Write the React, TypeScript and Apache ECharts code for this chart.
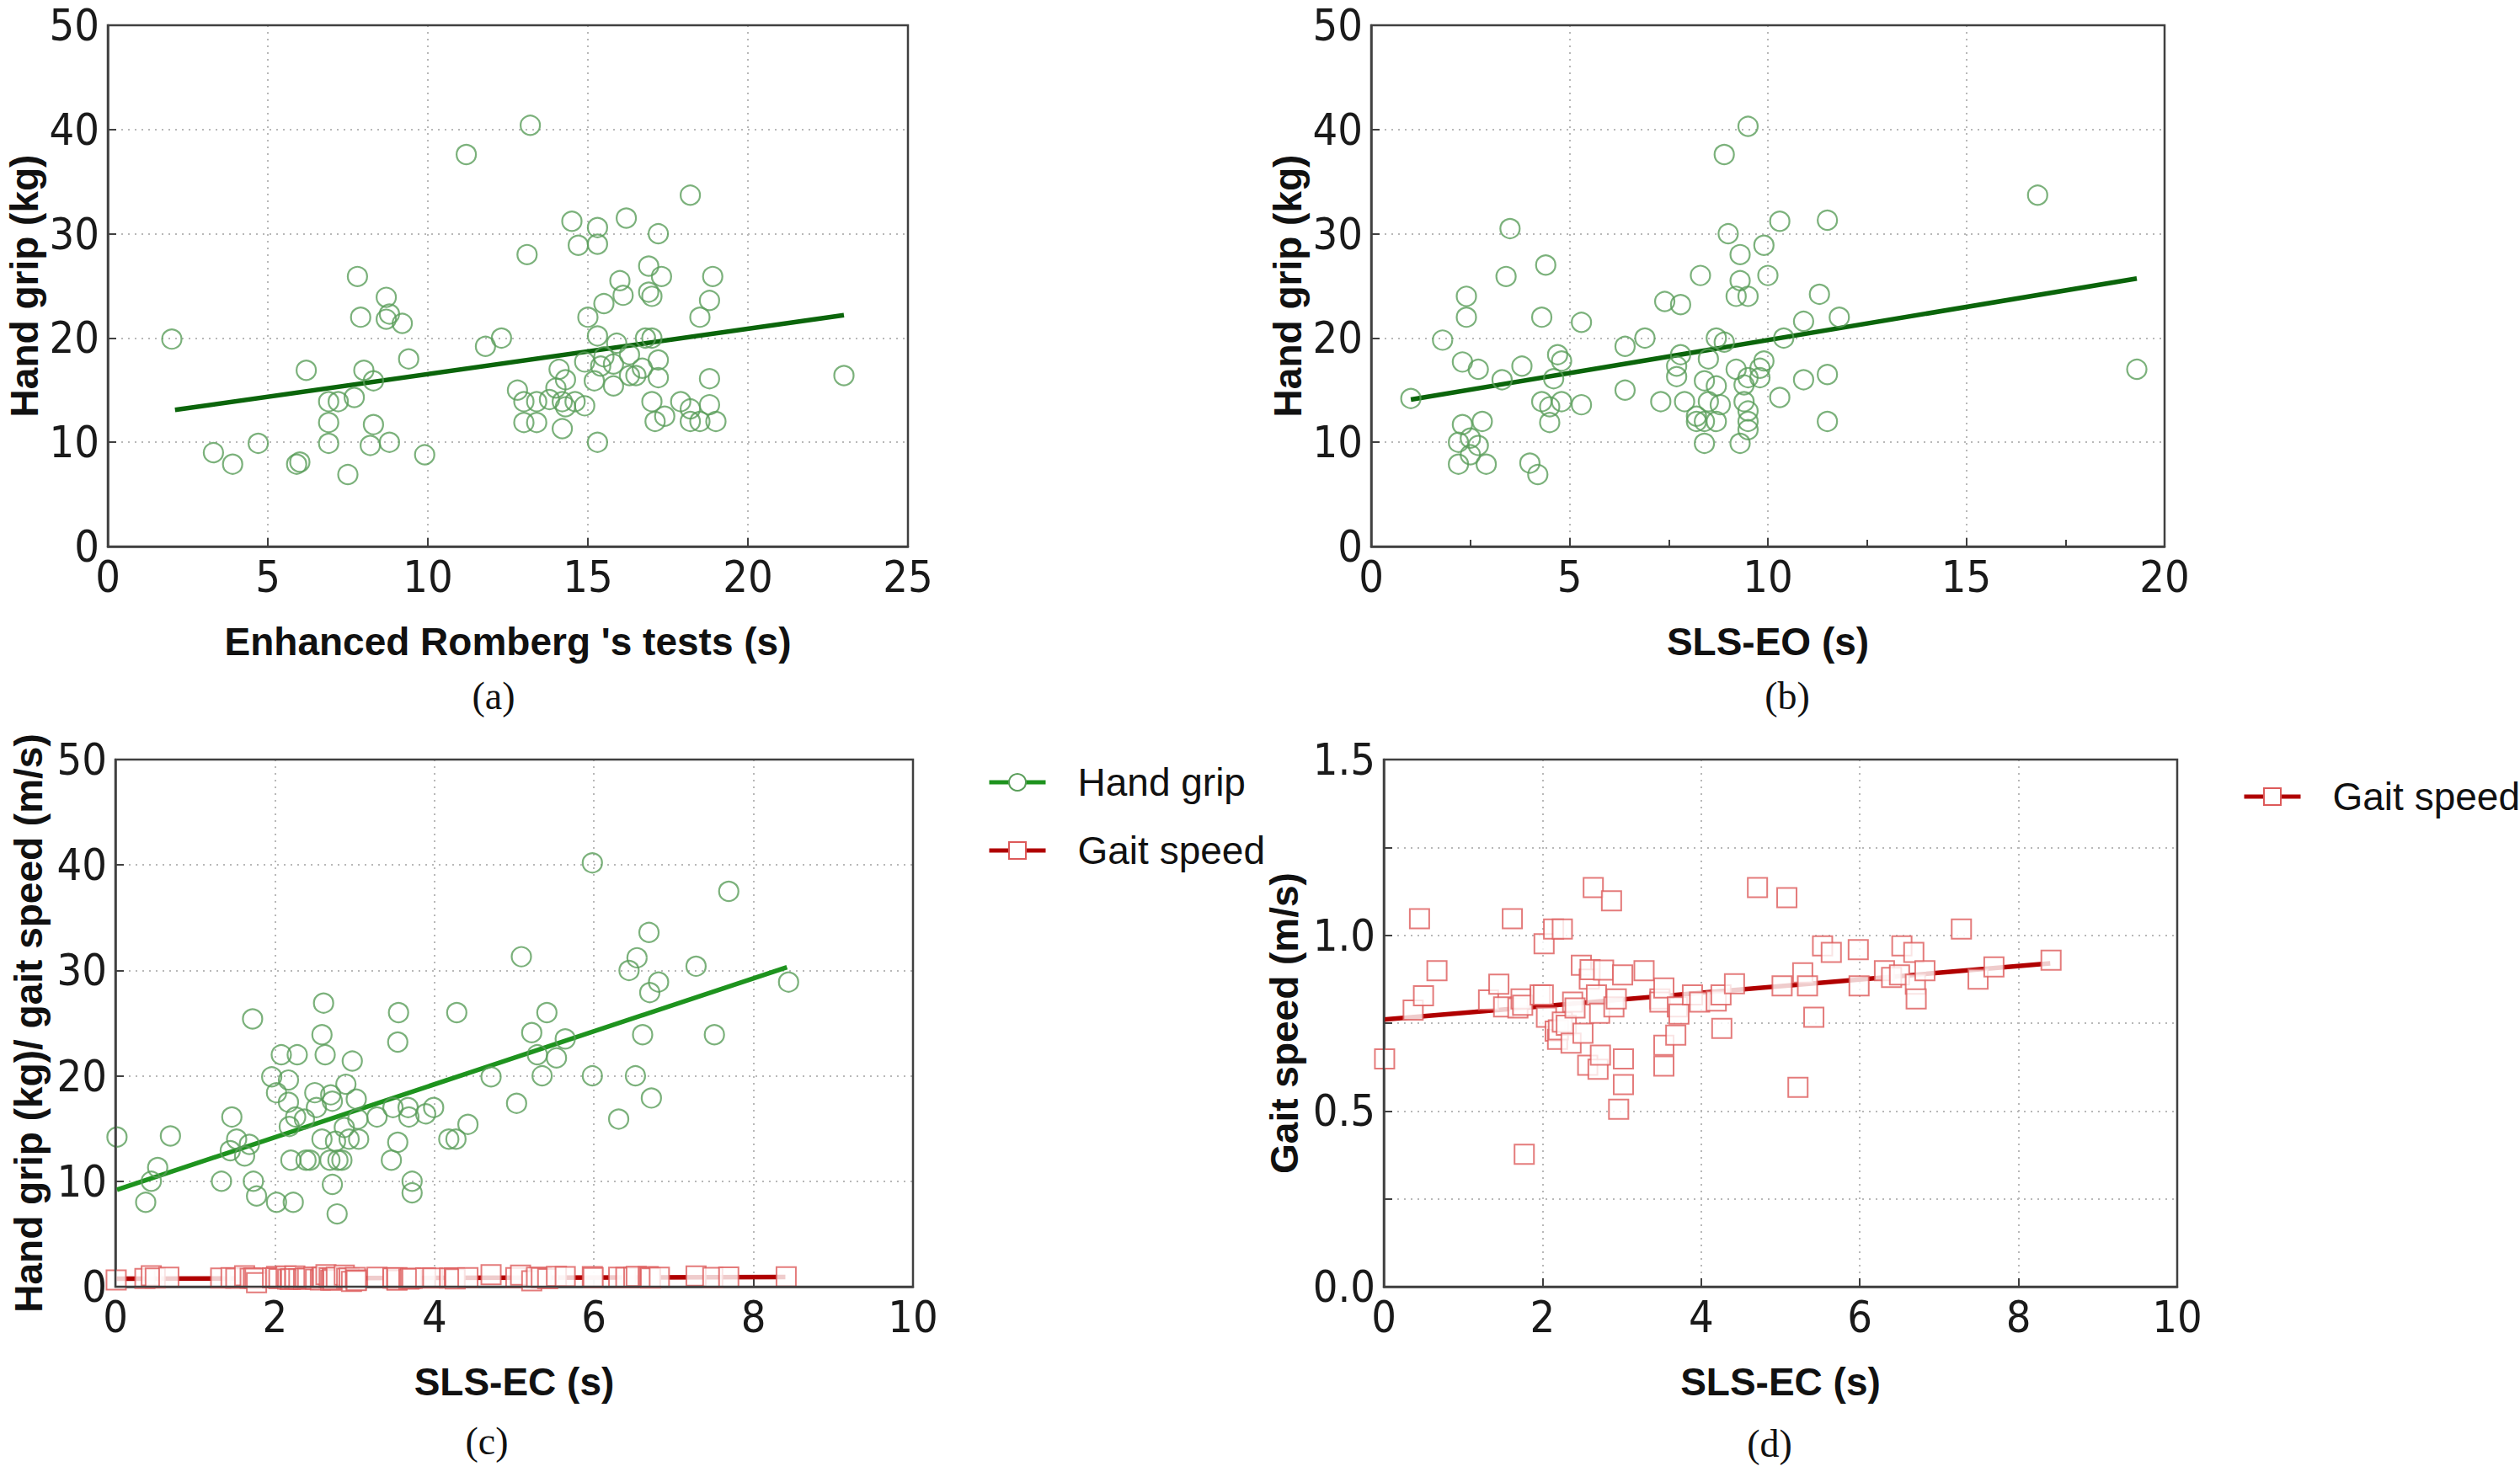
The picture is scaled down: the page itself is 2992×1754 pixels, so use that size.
import React, { useEffect, useRef } from "react";
import * as echarts from "echarts";

// (a) Enhanced Romberg's tests vs hand grip
const rombergX = [2.0, 3.3, 3.9, 4.7, 5.9, 6.0, 6.2, 6.9, 7.2, 6.9, 6.9, 7.5, 7.7, 7.8, 7.9, 8.0, 8.3, 8.3, 8.2, 8.7, 8.7, 8.8, 9.2, 8.8, 9.4, 9.9, 11.2, 11.8, 12.3, 13.2, 13.1, 12.8, 13.0, 13.0, 13.4, 13.4, 13.8, 14.1, 14.0, 14.2, 14.2, 14.3, 14.3, 14.5, 14.7, 14.6, 14.9, 14.9, 15.0, 15.3, 15.3, 15.3, 15.2, 15.3, 15.4, 15.5, 15.5, 15.9, 16.0, 16.1, 15.8, 15.8, 16.2, 16.3, 16.3, 16.5, 16.7, 16.9, 16.9, 17.0, 16.8, 17.0, 17.2, 17.3, 17.2, 17.2, 17.0, 17.1, 17.4, 17.9, 18.2, 18.2, 18.2, 18.5, 18.5, 18.8, 18.9, 18.8, 18.8, 19.0, 23.0];
const rombergGrip = [19.9, 9.0, 7.9, 9.9, 7.9, 8.1, 16.9, 13.9, 13.9, 11.9, 9.9, 6.9, 14.3, 25.9, 22.0, 16.9, 15.9, 11.7, 9.7, 23.9, 21.8, 22.3, 21.4, 10.0, 18.0, 8.8, 37.6, 19.2, 20.0, 40.4, 28.0, 15.0, 13.9, 11.9, 11.9, 13.9, 14.1, 17.0, 15.2, 11.3, 13.9, 16.0, 13.4, 31.2, 28.9, 13.9, 13.5, 17.7, 22.0, 30.6, 29.0, 20.2, 15.9, 10.0, 17.3, 18.2, 23.3, 19.5, 25.5, 24.1, 17.5, 15.4, 31.5, 18.4, 16.4, 16.4, 17.1, 26.9, 24.4, 24.0, 20.0, 20.0, 30.0, 25.9, 17.9, 16.2, 13.9, 12.0, 12.5, 13.9, 33.7, 13.2, 12.0, 12.0, 22.0, 23.6, 25.9, 16.1, 13.6, 12.0, 16.4];
const rombergFitX = [2.1, 23.0];
const rombergFitY = [13.1, 22.2];

// (b) SLS-EO vs hand grip
const eoX = [1.0, 1.8, 2.3, 2.4, 2.4, 2.3, 2.2, 2.2, 2.5, 2.5, 2.7, 2.7, 2.8, 2.9, 3.3, 3.5, 3.4, 3.8, 4.0, 4.2, 4.3, 4.4, 4.3, 4.5, 4.5, 4.6, 4.7, 4.8, 4.8, 5.3, 5.3, 6.4, 6.9, 6.4, 7.3, 7.4, 7.8, 7.8, 7.7, 7.7, 7.9, 8.3, 8.5, 8.4, 8.5, 8.2, 8.2, 8.4, 8.4, 8.7, 8.7, 8.8, 8.7, 8.9, 9.0, 8.9, 9.3, 9.3, 9.2, 9.2, 9.4, 9.3, 9.5, 9.5, 9.4, 9.5, 9.5, 9.5, 9.5, 9.9, 10.0, 9.9, 9.8, 9.8, 10.3, 10.4, 10.3, 10.9, 10.9, 11.3, 11.5, 11.5, 11.5, 11.8, 16.8, 19.3];
const eoGrip = [14.2, 19.8, 17.7, 24.0, 22.0, 11.7, 10.0, 7.9, 10.4, 8.8, 9.7, 17.0, 12.0, 7.9, 16.0, 30.5, 25.9, 17.3, 8.0, 6.9, 22.0, 27.0, 13.9, 13.4, 11.9, 16.1, 18.4, 17.8, 13.9, 21.5, 13.6, 19.2, 20.0, 15.0, 13.9, 23.5, 23.2, 18.4, 17.3, 16.3, 13.9, 26.0, 18.0, 15.9, 13.9, 12.5, 12.0, 12.0, 9.9, 15.4, 12.0, 13.6, 20.0, 37.6, 30.0, 19.6, 28.0, 25.5, 24.0, 17.0, 13.9, 9.9, 40.3, 24.0, 15.5, 16.2, 13.0, 12.0, 11.2, 28.9, 26.0, 17.8, 17.1, 16.2, 31.2, 20.0, 14.3, 21.6, 16.0, 24.2, 31.3, 16.5, 12.0, 22.0, 33.7, 17.0];
const eoFitX = [1.0, 19.3];
const eoFitY = [14.1, 25.7];

// (c) SLS-EC vs hand grip
const ecX = [0.02, 0.38, 0.45, 0.53, 0.69, 1.33, 1.44, 1.46, 1.52, 1.62, 1.68, 1.72, 1.73, 1.77, 1.96, 2.02, 2.02, 2.08, 2.17, 2.17, 2.18, 2.2, 2.23, 2.26, 2.28, 2.37, 2.39, 2.44, 2.5, 2.52, 2.59, 2.59, 2.61, 2.63, 2.69, 2.7, 2.72, 2.72, 2.76, 2.78, 2.79, 2.84, 2.87, 2.89, 2.93, 2.97, 3.02, 3.04, 3.05, 3.28, 3.46, 3.48, 3.54, 3.54, 3.55, 3.67, 3.68, 3.72, 3.72, 3.89, 3.99, 4.18, 4.27, 4.28, 4.42, 4.71, 5.03, 5.09, 5.22, 5.29, 5.35, 5.41, 5.53, 5.64, 5.98, 5.98, 6.31, 6.44, 6.52, 6.54, 6.61, 6.69, 6.7, 6.72, 6.81, 7.28, 7.51, 7.69, 8.44];
const ecGrip = [14.2, 8.0, 10.0, 11.3, 14.3, 10.0, 12.9, 16.1, 14.0, 12.4, 13.5, 25.4, 10.0, 8.6, 19.9, 18.4, 8.0, 22.0, 19.6, 17.5, 15.2, 12.0, 8.0, 16.1, 22.0, 15.9, 12.0, 12.0, 18.4, 17.0, 14.0, 23.9, 26.9, 22.0, 12.0, 18.2, 17.6, 9.7, 13.8, 6.9, 12.0, 12.0, 15.1, 19.2, 14.0, 21.4, 17.8, 15.9, 14.0, 16.1, 12.0, 17.0, 13.7, 23.2, 26.0, 17.0, 16.1, 10.0, 8.9, 16.4, 17.0, 14.0, 14.0, 26.0, 15.4, 19.9, 17.4, 31.3, 24.1, 22.0, 20.0, 26.0, 21.7, 23.5, 40.2, 20.0, 15.9, 30.0, 20.0, 31.2, 23.9, 33.6, 27.9, 17.9, 28.9, 30.4, 23.9, 37.5, 28.9];
const ecGripFitX = [0.02, 8.42];
const ecGripFitY = [9.2, 30.3];

// (c)/(d) SLS-EC vs gait speed
const gaitX = [0.01, 0.37, 0.45, 0.5, 0.67, 1.32, 1.45, 1.51, 1.62, 1.69, 1.73, 1.75, 1.77, 1.97, 2.02, 2.01, 2.05, 2.14, 2.16, 2.19, 2.2, 2.25, 2.25, 2.3, 2.36, 2.38, 2.41, 2.49, 2.51, 2.57, 2.59, 2.6, 2.64, 2.68, 2.7, 2.72, 2.73, 2.77, 2.87, 2.9, 2.93, 2.96, 3.01, 3.02, 3.02, 3.28, 3.48, 3.48, 3.53, 3.53, 3.53, 3.68, 3.7, 3.72, 3.89, 3.98, 4.19, 4.25, 4.26, 4.42, 4.71, 5.02, 5.08, 5.22, 5.28, 5.34, 5.42, 5.53, 5.64, 5.98, 5.99, 6.31, 6.4, 6.5, 6.53, 6.68, 6.7, 6.71, 6.82, 7.28, 7.49, 7.69, 8.41];
const gaitSpeed = [0.648, 0.787, 1.047, 0.828, 0.899, 0.816, 0.861, 0.796, 1.047, 0.793, 0.819, 0.801, 0.377, 0.83, 0.976, 0.83, 0.767, 1.018, 0.727, 0.704, 0.731, 1.018, 0.753, 0.744, 0.693, 0.81, 0.793, 0.915, 0.721, 0.63, 0.875, 0.902, 1.136, 0.83, 0.619, 0.778, 0.659, 0.901, 1.098, 0.796, 0.819, 0.505, 0.887, 0.648, 0.575, 0.899, 0.819, 0.81, 0.687, 0.628, 0.85, 0.716, 0.796, 0.776, 0.83, 0.81, 0.813, 0.83, 0.735, 0.862, 1.136, 0.856, 1.107, 0.567, 0.893, 0.856, 0.767, 0.97, 0.951, 0.959, 0.856, 0.899, 0.88, 0.887, 0.97, 0.951, 0.861, 0.819, 0.899, 1.018, 0.875, 0.91, 0.929];
const gaitFitX = [0.0, 8.4];
const gaitFitY = [0.76, 0.92];

const panelLabels = ["(a)", "(b)", "(c)", "(d)"];

const zip = (xs: number[], ys: number[]) => xs.map((x, i) => [x, ys[i]]);

const TICK_FONT = "'Liberation Sans Narrow', 'Arial Narrow', 'DejaVu Sans Condensed', sans-serif";
const TITLE_FONT = "'Liberation Sans', Arial, sans-serif";
const SERIF_FONT = "'Liberation Serif', 'Times New Roman', serif";

const FRAME = "#404040";
const GRIP_PT = "#5a9e5a";
const GRIP_LINE = "#0b650b";
const GRIP_LINE_C = "#1e931e";
const GAIT_PT = "#dd5a5a";
const GAIT_LINE = "#b00000";

const axisCommon = (gridIndex: number) => ({
  gridIndex,
  type: "value" as const,
  axisLine: { show: true, onZero: false, lineStyle: { color: FRAME, width: 2.5 } },
  axisTick: { show: true, inside: true, length: 10, lineStyle: { color: FRAME, width: 2 } },
  splitLine: { show: true, lineStyle: { color: "#b8b8b8", type: [2, 6], width: 2 } },
  axisLabel: {
    fontSize: 52,
    fontFamily: TICK_FONT,
    color: "#1a1a1a",
    margin: 10,
    showMinLabel: true,
    showMaxLabel: true,
  },
  nameLocation: "middle" as const,
  nameTextStyle: { fontSize: 46, fontWeight: "bold" as const, fontFamily: TITLE_FONT, color: "#111" },
});

const App: React.FC = () => {
  const chartRef = useRef<HTMLDivElement>(null);

  useEffect(() => {
    const chartDom = chartRef.current;
    if (!chartDom) return;
    const myChart = echarts.init(chartDom, undefined, { renderer: "svg" });

    // grid border drawn above the dotted split lines so the frame stays solid
    const grids = [
      { left: 128, top: 30, width: 950, height: 619 },
      { left: 1628, top: 30, width: 942, height: 619 },
      { left: 137, top: 902, width: 947, height: 626 },
      { left: 1643, top: 902, width: 942, height: 626 },
    ].map((g) => ({ ...g, show: true, borderColor: FRAME, borderWidth: 2.5, backgroundColor: "transparent", z: 5 }));

    const xAxes = [
      { ...axisCommon(0), min: 0, max: 25, interval: 5, name: "Enhanced Romberg 's tests (s)", nameGap: 90 },
      {
        ...axisCommon(1),
        min: 0,
        max: 20,
        interval: 5,
        name: "SLS-EO (s)",
        nameGap: 90,
        minorTick: { show: true, splitNumber: 2, length: 8, lineStyle: { color: FRAME, width: 2 } },
      },
      { ...axisCommon(2), min: 0, max: 10, interval: 2, name: "SLS-EC (s)", nameGap: 90 },
      { ...axisCommon(3), min: 0, max: 10, interval: 2, name: "SLS-EC (s)", nameGap: 90 },
    ];

    const yAxes = [
      { ...axisCommon(0), min: 0, max: 50, interval: 10, name: "Hand grip (kg)", nameGap: 76 },
      { ...axisCommon(1), min: 0, max: 50, interval: 10, name: "Hand grip (kg)", nameGap: 76 },
      { ...axisCommon(2), min: 0, max: 50, interval: 10, name: "Hand grip (kg)/ gait speed (m/s)", nameGap: 80 },
      {
        ...axisCommon(3),
        min: 0,
        max: 1.5,
        interval: 0.25,
        name: "Gait speed (m/s)",
        nameGap: 95,
        axisLabel: {
          ...axisCommon(3).axisLabel,
          formatter: (v: number) => (Math.abs(v * 2 - Math.round(v * 2)) < 1e-6 ? v.toFixed(1) : ""),
        },
      },
    ];

    const gripScatter = (name: string, idx: number, data: number[][]) => ({
      name,
      type: "scatter" as const,
      xAxisIndex: idx,
      yAxisIndex: idx,
      data,
      symbol: "circle",
      symbolSize: 23,
      itemStyle: { color: "rgba(255,255,255,0)", borderColor: GRIP_PT, borderWidth: 2.2 },
      z: 3,
    });
    const gaitScatter = (name: string, idx: number, data: number[][]) => ({
      name,
      type: "scatter" as const,
      xAxisIndex: idx,
      yAxisIndex: idx,
      data,
      symbol: "rect",
      symbolSize: 23,
      itemStyle: { color: "#fff", borderColor: GAIT_PT, borderWidth: 2 },
      z: 4,
    });
    const fitLine = (name: string, idx: number, data: number[][], lineColor: string, ptColor: string, symbol: string) => ({
      name,
      type: "line" as const,
      xAxisIndex: idx,
      yAxisIndex: idx,
      data,
      symbol,
      showSymbol: false,
      lineStyle: { color: lineColor, width: 5.5 },
      itemStyle: { color: ptColor },
      z: 2,
    });

    const legendText = { fontSize: 46, fontFamily: TITLE_FONT, color: "#111", padding: [0, 0, 0, 33] };

    const option: echarts.EChartsOption = {
      animation: false,
      backgroundColor: "#fff",
      grid: grids,
      xAxis: xAxes as any,
      yAxis: yAxes as any,
      legend: [
        {
          data: ["Hand grip", "Gait speed"],
          orient: "vertical",
          left: 1167,
          top: 901,
          itemWidth: 67,
          itemHeight: 25,
          itemGap: 35,
          lineStyle: { width: 5 },
          textStyle: legendText,
        },
        {
          data: ["Gait speed"],
          orient: "vertical",
          left: 2657,
          top: 918,
          itemWidth: 67,
          itemHeight: 25,
          lineStyle: { width: 5 },
          textStyle: legendText,
        },
      ] as any,
      graphic: [
        { x: 586, y: 826 },
        { x: 2122, y: 826 },
        { x: 578, y: 1711 },
        { x: 2101, y: 1714 },
      ].map((p, i) => ({
        type: "text",
        x: p.x,
        y: p.y,
        style: {
          text: panelLabels[i],
          font: `46px ${SERIF_FONT}`,
          fill: "#111",
          textAlign: "center",
          textVerticalAlign: "middle",
        },
      })) as any,
      series: [
        fitLine("Hand grip (a)", 0, zip(rombergFitX, rombergFitY), GRIP_LINE, GRIP_PT, "emptyCircle"),
        gripScatter("Hand grip points (a)", 0, zip(rombergX, rombergGrip)),
        fitLine("Hand grip (b)", 1, zip(eoFitX, eoFitY), GRIP_LINE, GRIP_PT, "emptyCircle"),
        gripScatter("Hand grip points (b)", 1, zip(eoX, eoGrip)),
        fitLine("Hand grip", 2, zip(ecGripFitX, ecGripFitY), GRIP_LINE_C, GRIP_PT, "emptyCircle"),
        gripScatter("Hand grip points (c)", 2, zip(ecX, ecGrip)),
        fitLine("Gait speed", 2, zip(gaitFitX, gaitFitY), GAIT_LINE, GAIT_PT, "emptyRect"),
        gaitScatter("Gait speed points (c)", 2, zip(gaitX, gaitSpeed)),
        fitLine("Gait speed", 3, zip(gaitFitX, gaitFitY), GAIT_LINE, GAIT_PT, "emptyRect"),
        gaitScatter("Gait speed points (d)", 3, zip(gaitX, gaitSpeed)),
      ] as any,
    };

    myChart.setOption(option);

    const handleResize = (): void => {
      myChart.resize();
    };
    window.addEventListener("resize", handleResize);

    return () => {
      window.removeEventListener("resize", handleResize);
      myChart.dispose();
    };
  }, []);

  return (
    <div
      ref={chartRef}
      style={{
        position: "fixed",
        left: 0,
        top: 0,
        width: "2992px",
        height: "1754px",
        background: "#fff",
      }}
    />
  );
};

export default App;
